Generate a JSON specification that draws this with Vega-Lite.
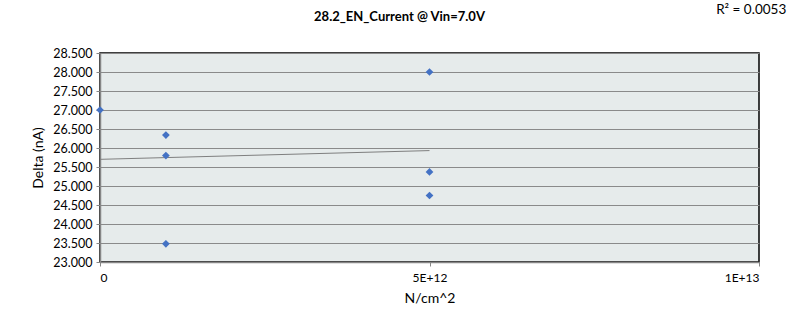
{
  "$schema": "https://vega.github.io/schema/vega-lite/v6.json",
  "autosize": "none",
  "width": 659,
  "height": 209,
  "padding": {"left": 100, "top": 53, "right": 32, "bottom": 70},
  "background": "white",
  "config": {
    "font": "Lato",
    "view": {"fill": "#E6EBEB", "stroke": "#000000", "strokeWidth": 1.5},
    "axisX": {
      "labelOverlap": false,
      "grid": false,
      "domainColor": "#868686",
      "domainWidth": 1.5,
      "tickColor": "#868686",
      "tickSize": 4,
      "labelPadding": 6,
      "labelFont": "Lato",
      "labelFontSize": 12,
      "labelColor": "#000000",
      "titleFont": "Lato",
      "titleFontSize": 14,
      "titleFontWeight": "normal",
      "titleColor": "#000000",
      "titlePadding": 8
    },
    "axisY": {
      "labelOverlap": false,
      "grid": true,
      "gridColor": "#8a8a8a",
      "gridWidth": 1,
      "domainColor": "#868686",
      "domainWidth": 1.5,
      "tickColor": "#868686",
      "tickSize": 4,
      "labelPadding": 4,
      "labelFont": "Lato",
      "labelFontSize": 12.5,
      "labelColor": "#000000",
      "titleFont": "Lato",
      "titleFontSize": 14,
      "titleFontWeight": "normal",
      "titleColor": "#000000",
      "titlePadding": 7
    }
  },
  "title": {
    "text": "28.2_EN_Current @ Vin=7.0V",
    "font": "Lato",
    "fontSize": 13,
    "fontWeight": "bold",
    "color": "#000000",
    "anchor": "middle",
    "dx": -30,
    "offset": -21
  },
  "data": {
    "values": [
      {"fluence": 0, "delta": 27.0},
      {"fluence": 1e12, "delta": 26.34},
      {"fluence": 1e12, "delta": 25.8},
      {"fluence": 1e12, "delta": 23.48},
      {"fluence": 5e12, "delta": 28.0},
      {"fluence": 5e12, "delta": 25.37},
      {"fluence": 5e12, "delta": 24.75}
    ]
  },
  "layer": [
    {
      "transform": [{"regression": "delta", "on": "fluence", "method": "linear"}],
      "mark": {"type": "line", "color": "#7f7f7f", "strokeWidth": 1},
      "encoding": {
        "x": {
          "field": "fluence",
          "type": "quantitative",
          "scale": {"domain": [0, 1e13], "nice": false, "zero": false},
          "axis": {
            "values": [0, 5e12, 1e13],
            "labelExpr": "datum.value == 0 ? '0' : (datum.value == 5e12 ? '5E+12' : '1E+13')",
            "title": "N/cm^2"
          }
        },
        "y": {
          "field": "delta",
          "type": "quantitative",
          "scale": {"domain": [23, 28.5], "nice": false, "zero": false},
          "axis": {
            "values": [23, 23.5, 24, 24.5, 25, 25.5, 26, 26.5, 27, 27.5, 28, 28.5],
            "format": ".3f",
            "title": "Delta (nA)"
          }
        }
      }
    },
    {
      "mark": {"type": "point", "shape": "diamond", "filled": true, "color": "#4472C4", "size": 60, "opacity": 1, "clip": false},
      "encoding": {
        "x": {
          "field": "fluence",
          "type": "quantitative",
          "axis": {
            "values": [0, 5e12, 1e13],
            "labelExpr": "datum.value == 0 ? '0' : (datum.value == 5e12 ? '5E+12' : '1E+13')",
            "title": "N/cm^2"
          }
        },
        "y": {
          "field": "delta",
          "type": "quantitative",
          "axis": {
            "values": [23, 23.5, 24, 24.5, 25, 25.5, 26, 26.5, 27, 27.5, 28, 28.5],
            "format": ".3f",
            "title": "Delta (nA)"
          }
        }
      }
    },
    {
      "data": {"values": [{"label": "R² = 0.0053"}]},
      "mark": {"type": "text", "align": "left", "baseline": "middle", "font": "Lato", "fontSize": 13.5, "color": "#000000", "clip": false},
      "encoding": {
        "x": {
          "datum": 9.35e12,
          "type": "quantitative",
          "axis": {
            "values": [0, 5e12, 1e13],
            "labelExpr": "datum.value == 0 ? '0' : (datum.value == 5e12 ? '5E+12' : '1E+13')",
            "title": "N/cm^2"
          }
        },
        "y": {
          "datum": 29.62,
          "type": "quantitative",
          "axis": {
            "values": [23, 23.5, 24, 24.5, 25, 25.5, 26, 26.5, 27, 27.5, 28, 28.5],
            "format": ".3f",
            "title": "Delta (nA)"
          }
        },
        "text": {"field": "label"}
      }
    }
  ]
}
